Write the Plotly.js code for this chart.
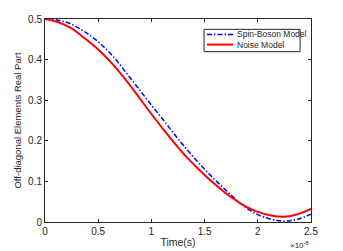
<!DOCTYPE html>
<html><head><meta charset="utf-8">
<script src="https://cdn.plot.ly/plotly-3.0.1.min.js"></script>
<style>html,body{margin:0;padding:0;background:#fff}#c{width:343px;height:251px}</style>
</head><body><div id="c"></div>
<script>
// time in units of 1e-8 s
const time = [0, 0.125, 0.25, 0.375, 0.5, 0.625, 0.75, 0.875, 1.0, 1.125, 1.25, 1.375, 1.5, 1.625, 1.75, 1.875, 2.0, 2.125, 2.25, 2.375, 2.5];
const spinBoson = [0.500, 0.497, 0.487, 0.468, 0.444, 0.412, 0.372, 0.330, 0.288, 0.247, 0.205, 0.166, 0.130, 0.097, 0.066, 0.038, 0.018, 0.007, 0.002, 0.007, 0.019];
const noise = [0.500, 0.492, 0.477, 0.452, 0.425, 0.392, 0.353, 0.310, 0.266, 0.224, 0.184, 0.148, 0.116, 0.087, 0.061, 0.040, 0.025, 0.016, 0.013, 0.019, 0.032];
const xTicks = [0, 0.5, 1, 1.5, 2, 2.5];
const yTicks = [0, 0.1, 0.2, 0.3, 0.4, 0.5];
const seriesNames = ['Spin-Boson Model', 'Noise Model'];

const font = {family: 'Liberation Sans, Arial, sans-serif', color: '#262626'};
const styles = [
  {color: '#0000ff', width: 1.5, dash: '5px,2px,1.5px,2px'},
  {color: '#ff0000', width: 2, dash: 'solid'}
];
const traces = [spinBoson, noise].map((ys, i) => ({
  x: time, y: ys, type: 'scatter', mode: 'lines', name: seriesNames[i],
  line: Object.assign({shape: 'spline'}, styles[i])
}));
const axisCommon = {showline: true, linecolor: '#262626', linewidth: 1, mirror: 'allticks',
  ticks: 'inside', ticklen: 3, tickcolor: '#262626', showgrid: false, zeroline: false,
  tickfont: Object.assign({size: 10}, font)};

// legend box (MATLAB-style, compact)
const lg = {x0: 0.598, x1: 0.959, y0: 0.839, y1: 0.949, rows: [0.924, 0.874], s0: 0.609, s1: 0.707, tx: 0.716};
const shapes = [{type: 'rect', xref: 'paper', yref: 'paper', x0: lg.x0, x1: lg.x1, y0: lg.y0, y1: lg.y1,
  line: {color: '#262626', width: 1}, fillcolor: '#fff'}];
const annotations = [];
seriesNames.forEach((n, i) => {
  shapes.push({type: 'line', xref: 'paper', yref: 'paper', x0: lg.s0, x1: lg.s1, y0: lg.rows[i], y1: lg.rows[i],
    line: {color: styles[i].color, width: styles[i].width, dash: styles[i].dash}});
  annotations.push({xref: 'paper', yref: 'paper', x: lg.tx, y: lg.rows[i], xanchor: 'left', yanchor: 'middle',
    text: n, showarrow: false, font: Object.assign({size: 8.5}, font)});
});
annotations.push({xref: 'paper', yref: 'paper', x: 1.0, y: 0, yshift: -30, xanchor: 'right', yanchor: 'bottom',
  text: '×10<sup>-8</sup>', showarrow: false, font: Object.assign({size: 8}, font)});

const layout = {
  width: 343, height: 251,
  margin: {l: 45, r: 32, t: 19, b: 29},
  paper_bgcolor: '#fff', plot_bgcolor: '#fff',
  showlegend: false,
  xaxis: Object.assign({}, axisCommon, {range: [0, 2.5], tickvals: xTicks, ticktext: xTicks.map(String),
    title: {text: 'Time(s)', font: Object.assign({size: 10.5}, font), standoff: 2}}),
  yaxis: Object.assign({}, axisCommon, {range: [0, 0.5], tickvals: yTicks, ticktext: yTicks.map(String),
    title: {text: 'Off-diagonal Elements Real Part', font: Object.assign({size: 9.5}, font), standoff: 4}}),
  shapes: shapes,
  annotations: annotations
};
Plotly.newPlot('c', traces, layout, {displayModeBar: false, staticPlot: true});
</script></body></html>
